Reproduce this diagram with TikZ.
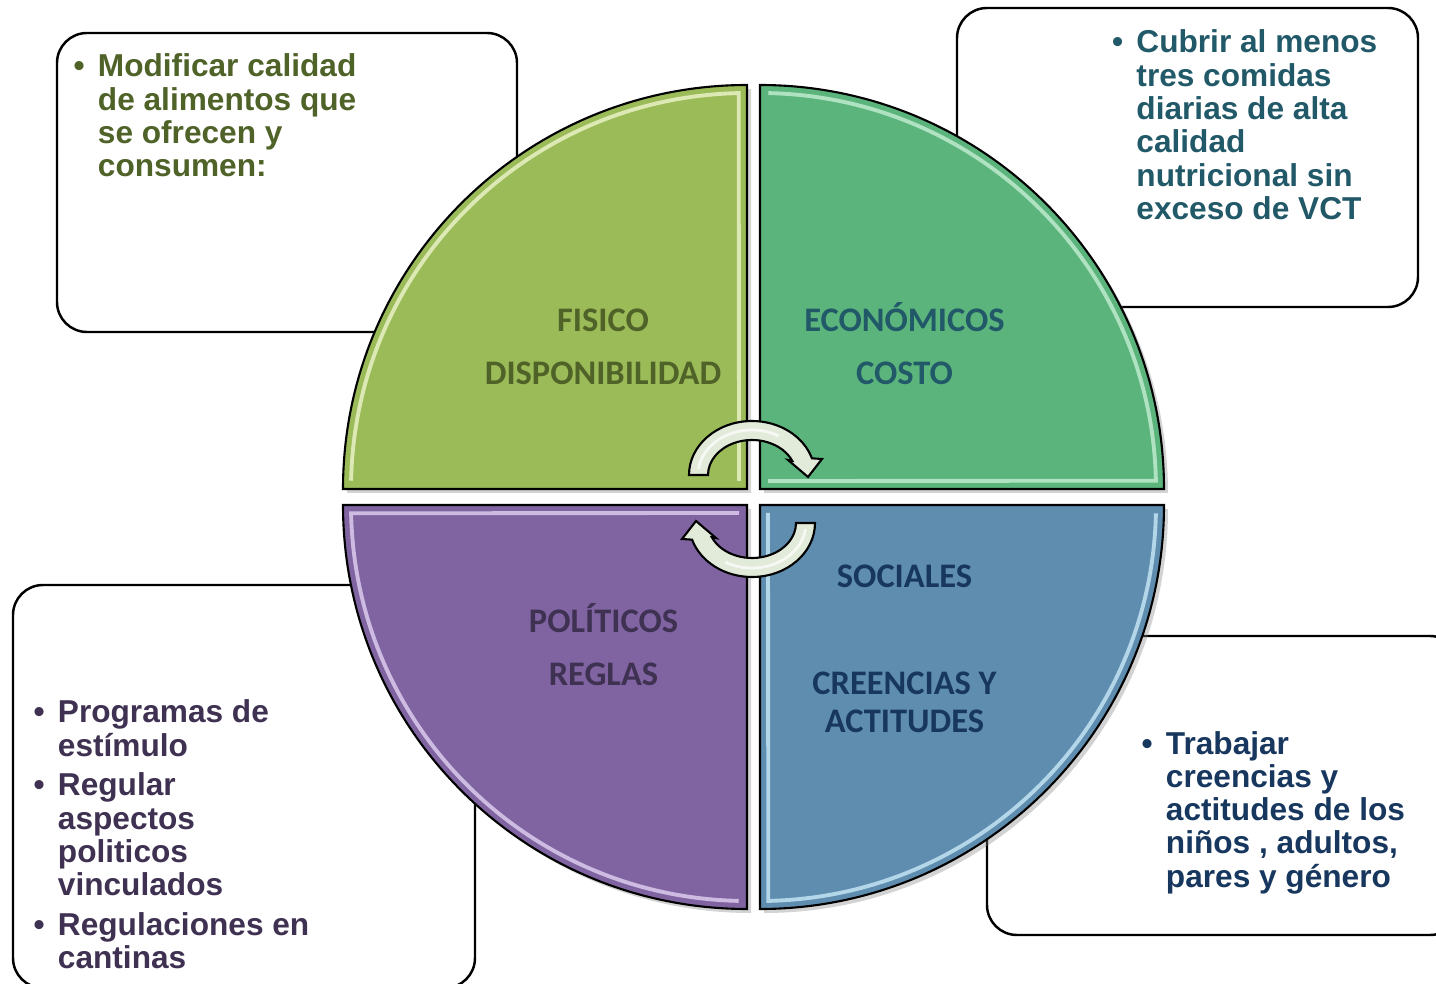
\documentclass[tikz,border=0pt]{standalone}
\usepackage{fontspec}
\newfontfamily\boxfont{Liberation Sans}
\newfontfamily\quadfont{Carlito}
\usetikzlibrary{shadows}
\definecolor{fisicoFill}{HTML}{9BBB59}
\definecolor{fisicoText}{HTML}{4F6228}
\definecolor{fisicoShine}{HTML}{E8F2C4}
\definecolor{economFill}{HTML}{5CB47D}
\definecolor{economText}{HTML}{215968}
\definecolor{economShine}{HTML}{BDEBCD}
\definecolor{politFill}{HTML}{8064A2}
\definecolor{politText}{HTML}{3F3151}
\definecolor{politShine}{HTML}{DCCBEE}
\definecolor{socialFill}{HTML}{5F8DB0}
\definecolor{socialText}{HTML}{17375E}
\definecolor{socialShine}{HTML}{C2E3F4}
\definecolor{arrowFill}{HTML}{E2EAD9}
\tikzstyle{infobox}=[draw=black, line width=0.7pt, fill=white, rounded corners=3mm]
\tikzstyle{quad}=[draw=black, line width=0.6pt, drop shadow={shadow xshift=0.4mm, shadow yshift=-0.4mm, opacity=0.35}]
\tikzstyle{shine}=[line width=1.1pt, opacity=0.85]
\tikzstyle{cycarrow}=[draw=black, line width=0.6pt, fill=arrowFill]
\tikzstyle{quadlabel}=[inner sep=0pt, anchor=base, font=\quadfont\bfseries\fontsize{9.8}{10.8}\selectfont]
\tikzstyle{boxtext}=[inner sep=0pt, anchor=base west, font=\boxfont\bfseries\fontsize{9}{9.47}\selectfont]
\newcommand{\bul}{\makebox[6.9pt][l]{\textbullet}}

\begin{document}
\begin{tikzpicture}[x=0.1mm, y=0.1mm]
    \useasboundingbox (0,0) rectangle (1436,983);
    % boxes behind the circle
    \draw[infobox] (57,651) rectangle (517,950);
    \draw[infobox] (957,676) rectangle (1418,975);
    \draw[infobox] (13,-5) rectangle (475,398);
    \draw[infobox] (987,48) rectangle (1460,347);
    % quarters
    \filldraw[quad, fill=fisicoFill] (747,494) -- (343,494) arc[start angle=180, end angle=90, radius=404] -- cycle;
    \filldraw[quad, fill=economFill] (760,494) -- (760,898) arc[start angle=90, end angle=0, radius=404] -- cycle;
    \filldraw[quad, fill=politFill] (747,478) -- (747,74) arc[start angle=270, end angle=180, radius=404] -- cycle;
    \filldraw[quad, fill=socialFill] (760,478) -- (1164,478) arc[start angle=0, end angle=-90, radius=404] -- cycle;
    \draw[shine, fisicoShine] ([shift={(747,494)}]178.8:396) arc[start angle=178.8, end angle=91.2, radius=396] -- (739,502);
    \draw[shine, economShine] ([shift={(760,494)}]88.8:396) arc[start angle=88.8, end angle=1.2, radius=396] -- (768,502);
    \draw[shine, politShine] (739,470) -- ([shift={(747,478)}]181.2:396) arc[start angle=181.2, end angle=268.8, radius=396];
    \draw[shine, socialShine] (768,470) -- ([shift={(760,478)}]271.2:396) arc[start angle=271.2, end angle=358.8, radius=396];
    % labels
    \node[quadlabel, text=fisicoText] (fisico) at (603,651) {\begin{tabular}[t]{@{}c@{}}FISICO\\[4pt]DISPONIBILIDAD\end{tabular}};
    \node[quadlabel, text=economText] (econom) at (904.5,651) {\begin{tabular}[t]{@{}c@{}}ECONÓMICOS\\[4pt]COSTO\end{tabular}};
    \node[quadlabel, text=politText] (polit) at (603.5,350) {\begin{tabular}[t]{@{}c@{}}POLÍTICOS\\[4pt]REGLAS\end{tabular}};
    \node[quadlabel, text=socialText] (social) at (904.5,395) {\begin{tabular}[t]{@{}c@{}}SOCIALES\\[19.4pt]CREENCIAS Y\\ACTITUDES\end{tabular}};
    % turning arrows
    \begin{scope}[shift={(752,508)}]
        \filldraw[cycarrow] (-63,0) arc[start angle=180, end angle=18, x radius=63, y radius=54] -- (70,16) -- (56,-2) -- (36,15) -- (24:44 and 35) arc[start angle=24, end angle=180, x radius=44, y radius=35] -- cycle;
        \draw[white, line width=0.8pt, opacity=0.7] (172:54 and 45) arc[start angle=172, end angle=60, x radius=54, y radius=45];
    \end{scope}
    \begin{scope}[shift={(752,460)}, rotate=180]
        \filldraw[cycarrow] (-63,0) arc[start angle=180, end angle=18, x radius=63, y radius=54] -- (70,16) -- (56,-2) -- (36,15) -- (24:44 and 35) arc[start angle=24, end angle=180, x radius=44, y radius=35] -- cycle;
        \draw[white, line width=0.8pt, opacity=0.7] (172:54 and 45) arc[start angle=172, end angle=60, x radius=54, y radius=45];
    \end{scope}
    % notes
    \node[boxtext, text=fisicoText] (fisicoNote) at (73,906) {\begin{tabular}[t]{@{}l@{}l@{}}\bul & Modificar calidad\\ & de alimentos que\\ & se ofrecen y\\ & consumen:\end{tabular}};
    \node[boxtext, text=economText] (economNote) at (1111.5,930) {\begin{tabular}[t]{@{}l@{}l@{}}\bul & Cubrir al menos\\ & tres comidas\\ & diarias de alta\\ & calidad\\ & nutricional sin\\ & exceso de VCT\end{tabular}};
    \node[boxtext, text=politText] (politNote) at (33,260) {\begin{tabular}[t]{@{}l@{}l@{}}\bul & Programas de\\ & estímulo\\[1.8pt] \bul & Regular\\ & aspectos\\ & politicos\\ & vinculados\\[1.8pt] \bul & Regulaciones en\\ & cantinas\end{tabular}};
    \node[boxtext, text=socialText] (socialNote) at (1141,229) {\begin{tabular}[t]{@{}l@{}l@{}}\bul & Trabajar\\ & creencias y\\ & actitudes de los\\ & niños , adultos,\\ & pares y género\end{tabular}};
\end{tikzpicture}
\end{document}
